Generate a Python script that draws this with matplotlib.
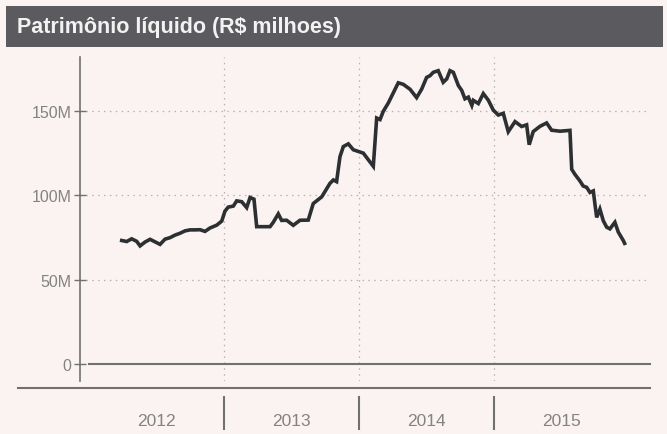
"""Patrimônio líquido (R$ milhões), 2012-2015 - recriação do gráfico de jornal"""
import matplotlib
matplotlib.use('Agg')
import matplotlib.pyplot as plt
from matplotlib.patches import Rectangle
from matplotlib.lines import Line2D
from matplotlib.transforms import blended_transform_factory

plt.rcParams['font.family'] = ['Liberation Sans', 'DejaVu Sans']

# Dados (ano decimal, R$ milhões)
anos = [
    2012.242, 2012.279, 2012.316, 2012.353, 2012.378, 2012.415, 2012.452, 2012.489,
    2012.526, 2012.563, 2012.600, 2012.637, 2012.674, 2012.711, 2012.748, 2012.785,
    2012.822, 2012.859, 2012.896, 2012.946, 2012.983, 2013.007, 2013.031, 2013.069,
    2013.094, 2013.131, 2013.168, 2013.193, 2013.222, 2013.242, 2013.341, 2013.365,
    2013.402, 2013.427, 2013.464, 2013.513, 2013.563, 2013.624, 2013.661, 2013.724,
    2013.785, 2013.810, 2013.834, 2013.859, 2013.884, 2013.921, 2013.958, 2014.032,
    2014.106, 2014.131, 2014.156, 2014.180, 2014.217, 2014.254, 2014.291, 2014.328,
    2014.378, 2014.427, 2014.464, 2014.501, 2014.526, 2014.550, 2014.587, 2014.624,
    2014.650, 2014.674, 2014.699, 2014.736, 2014.761, 2014.785, 2014.810, 2014.836,
    2014.847, 2014.884, 2014.921, 2014.958, 2014.995, 2015.032, 2015.069, 2015.106,
    2015.156, 2015.205, 2015.242, 2015.261, 2015.291, 2015.341, 2015.390, 2015.427,
    2015.489, 2015.563, 2015.576, 2015.600, 2015.637, 2015.661, 2015.687, 2015.711,
    2015.736, 2015.748, 2015.761, 2015.785, 2015.810, 2015.835, 2015.859, 2015.896,
    2015.921, 2015.958, 2015.968,
]
valores = [
    73.2, 72.6, 74.2, 72.7, 70.0, 72.3, 73.9, 72.4,
    70.9, 74.0, 74.9, 76.4, 77.5, 78.9, 79.5, 79.5,
    79.6, 78.6, 80.6, 82.3, 84.7, 90.6, 93.0, 93.6,
    96.7, 96.2, 92.7, 98.7, 97.7, 81.4, 81.4, 84.0,
    89.0, 85.1, 85.2, 82.2, 85.2, 85.3, 95.1, 99.1,
    107.1, 109.1, 108.1, 122.9, 128.9, 130.5, 127.0, 125.0,
    117.2, 145.8, 144.9, 149.8, 154.7, 160.7, 166.7, 165.8,
    162.9, 157.9, 162.9, 169.9, 170.9, 172.9, 173.9, 167.0,
    169.0, 173.9, 172.9, 165.1, 162.2, 157.2, 158.2, 153.3,
    156.3, 154.4, 160.3, 156.4, 150.5, 147.6, 148.6, 137.7,
    143.7, 140.8, 141.8, 130.0, 137.8, 140.9, 142.9, 138.6,
    138.0, 138.5, 115.4, 112.4, 108.5, 105.5, 104.7, 101.7,
    102.6, 94.8, 86.9, 91.8, 84.9, 81.1, 80.1, 84.0,
    78.2, 73.2, 71.5,
]

titulo = 'Patrimônio líquido (R$ milhoes)'
rotulos_anos = ['2012', '2013', '2014', '2015']
ticks_y = [0, 50, 100, 150]
rotulos_y = ['0', '50M', '100M', '150M']

W, H = 667, 435
papel = '#fbf3f1'
cinza_txt = '#838383'
cinza_linha = '#707070'

fig = plt.figure(figsize=(W / 100, H / 100), dpi=100, facecolor=papel)

# faixa do título
fig.patches.append(Rectangle((6 / W, 1 - 48 / H), 657 / W, 41 / H,
                             transform=fig.transFigure, facecolor='#5b5b5f',
                             edgecolor='none', zorder=0))
fig.text(17 / W, 1 - 28 / H, titulo, color='#f3f1f1', fontsize=15.5,
         fontweight='bold', va='center', ha='left')

# eixo principal
ax = fig.add_axes([80 / W, 1 - 382 / H, (650 - 80) / W, (382 - 58) / H])
ax.set_facecolor(papel)
ax.set_xlim(2011.933, 2016.156)
ax.set_ylim(-10.1, 182.0)

for s in ['top', 'right', 'bottom']:
    ax.spines[s].set_visible(False)
ax.spines['left'].set_color(cinza_linha)
ax.spines['left'].set_linewidth(1.2)

ax.set_yticks(ticks_y)
ax.set_yticklabels(rotulos_y)
ax.tick_params(axis='y', direction='inout', length=8, width=1.0, color=cinza_linha,
               labelcolor=cinza_txt, labelsize=11.5, pad=2)
ax.set_xticks([])

# grade pontilhada
for v in ticks_y[1:]:
    ax.axhline(v, color='#b9b1b1', lw=0.9, ls=(0, (1.2, 3.5)), zorder=1)
for a in [2013, 2014, 2015]:
    ax.axvline(a, color='#b9b1b1', lw=0.9, ls=(0, (1.2, 3.5)), zorder=1)

# linha do zero
ax.plot([2012.0, 2016.156], [0, 0], color=cinza_linha, lw=1.5, zorder=2,
        clip_on=False)

# série
ax.plot(anos, valores, color='#2c3032', lw=2.6, solid_joinstyle='miter', zorder=3)

# separador inferior e rótulos dos anos
fig.add_artist(Line2D([18 / W, 650 / W], [1 - 389 / H, 1 - 389 / H],
                      color=cinza_linha, lw=1.5))
trans = blended_transform_factory(ax.transData, fig.transFigure)
for a in [2013, 2014, 2015]:
    ax.plot([a, a], [1 - 398 / H, 1 - 430 / H], color=cinza_linha, lw=1.5,
            transform=trans, clip_on=False)
for i, r in enumerate(rotulos_anos):
    ax.text(2012.5 + i, 1 - 422 / H, r, transform=trans, ha='center', va='center',
            color=cinza_txt, fontsize=12.5)

fig.savefig('out.png', dpi=100, facecolor=papel)
